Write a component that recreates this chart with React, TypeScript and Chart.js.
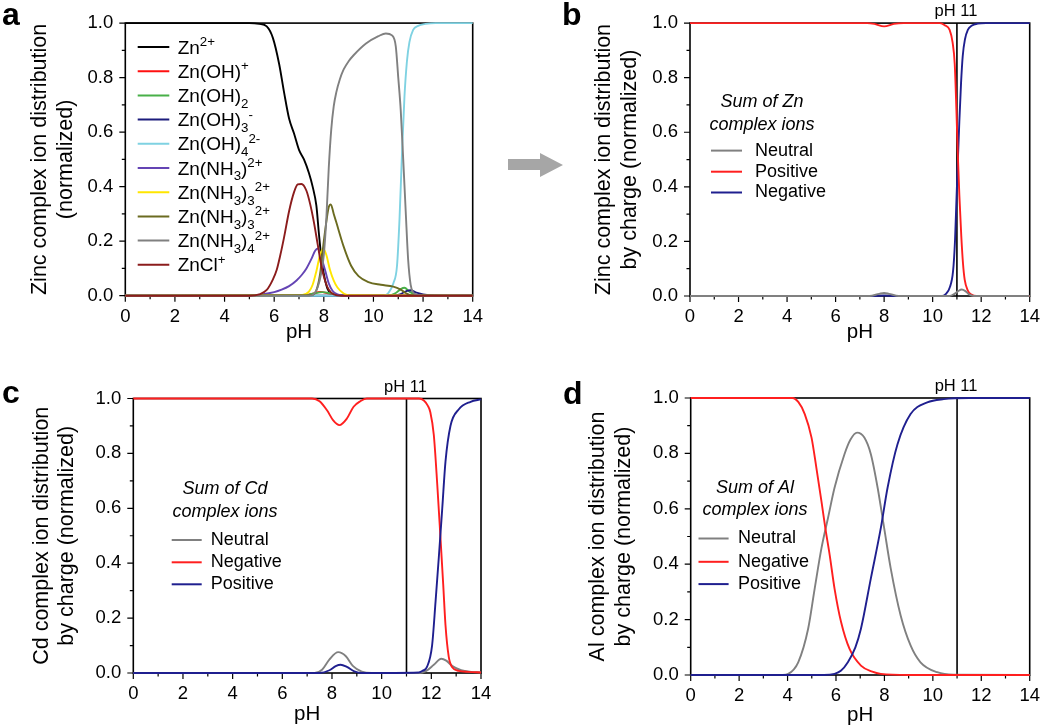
import React, { useEffect, useRef } from 'react';
import { Chart, registerables } from 'chart.js';

Chart.register(...registerables);

const FONT = '"Liberation Sans", Arial, Helvetica, sans-serif';
Chart.defaults.font.family = FONT;
Chart.defaults.color = '#000';

// ---- axes ----
const X_TICKS = [0, 2, 4, 6, 8, 10, 12, 14];
const X_MINOR = [1, 3, 5, 7, 9, 11, 13];
const Y_TICKS = [0, 0.2, 0.4, 0.6, 0.8, 1.0];
const Y_MINOR = [0.1, 0.3, 0.5, 0.7, 0.9];
const PH_MARK = 11;

// ---- panel a : Zn species ----
const A_NAMES = ['Zn^{2+}', 'Zn(OH)^{+}', 'Zn(OH)_{2}', 'Zn(OH)_{3}^{-}', 'Zn(OH)_{4}^{2-}', 'Zn(NH_{3})^{2+}', 'Zn(NH_{3})_{3}^{2+}', 'Zn(NH_{3})_{3}^{2+}', 'Zn(NH_{3})_{4}^{2+}', 'ZnCl^{+}'];
const A_COLORS = ['#000000', '#ff1010', '#48b048', '#1c1c7c', '#7fd2e2', '#6444b4', '#ffe600', '#6b6b20', '#808080', '#8b1c1c'];

const A_ZN2_PH = [0, 5.0, 5.4, 5.7, 5.95, 6.2, 6.4, 6.6, 6.8, 7.0, 7.2, 7.4, 7.55, 7.7, 7.8, 7.9, 8.0, 8.15, 8.35, 8.6, 14];
const A_ZN2 = [1, 1, 0.997, 0.988, 0.945, 0.85, 0.745, 0.65, 0.595, 0.535, 0.5, 0.45, 0.4, 0.33, 0.23, 0.14, 0.08, 0.025, 0.005, 0, 0];
const A_ZNOH_PH = [0, 7.0, 7.5, 7.85, 8.2, 8.6, 14];
const A_ZNOH = [0, 0, 0.006, 0.014, 0.008, 0.001, 0];
const A_ZNOH2_PH = [0, 7.2, 7.6, 7.95, 8.3, 8.7, 10.6, 10.9, 11.1, 11.25, 11.45, 11.7, 12.0, 14];
const A_ZNOH2 = [0, 0, 0.008, 0.013, 0.008, 0.001, 0.001, 0.01, 0.024, 0.029, 0.015, 0.004, 0.001, 0];
const A_ZNOH3_PH = [0, 10.9, 11.1, 11.35, 11.5, 11.7, 12.0, 12.5, 14];
const A_ZNOH3 = [0, 0, 0.006, 0.018, 0.02, 0.012, 0.005, 0.001, 0];
const A_ZNOH4_PH = [0, 10.4, 10.6, 10.8, 10.95, 11.05, 11.15, 11.25, 11.35, 11.45, 11.6, 11.8, 12.1, 12.5, 14];
const A_ZNOH4 = [0, 0, 0.01, 0.045, 0.11, 0.28, 0.52, 0.73, 0.86, 0.93, 0.975, 0.99, 0.997, 1, 1];
const A_NH3_PH = [0, 5.0, 5.5, 6.0, 6.3, 6.6, 6.9, 7.1, 7.3, 7.5, 7.65, 7.76, 7.9, 8.05, 8.2, 8.35, 8.55, 8.8, 14];
const A_NH3 = [0, 0.001, 0.005, 0.013, 0.022, 0.035, 0.056, 0.075, 0.1, 0.135, 0.165, 0.173, 0.14, 0.094, 0.045, 0.018, 0.005, 0.001, 0];
const A_NH33Y_PH = [0, 7.1, 7.4, 7.55, 7.7, 7.85, 7.98, 8.1, 8.25, 8.4, 8.55, 8.8, 9.0, 14];
const A_NH33Y = [0, 0.002, 0.015, 0.04, 0.09, 0.15, 0.172, 0.15, 0.094, 0.055, 0.03, 0.008, 0.002, 0];
const A_NH33O_PH = [0, 7.5, 7.7, 7.85, 8.0, 8.1, 8.2, 8.28, 8.4, 8.5, 8.8, 9.1, 9.4, 9.8, 10.3, 10.8, 11.1, 11.3, 11.5, 14];
const A_NH33O = [0, 0.002, 0.02, 0.08, 0.2, 0.27, 0.325, 0.335, 0.3, 0.27, 0.18, 0.11, 0.072, 0.05, 0.04, 0.033, 0.022, 0.01, 0.002, 0];
const A_NH34_PH = [0, 7.4, 7.6, 7.75, 7.9, 8.0, 8.1, 8.2, 8.3, 8.4, 8.5, 8.65, 8.8, 9.0, 9.2, 9.7, 10.2, 10.5, 10.75, 10.9, 11.0, 11.1, 11.2, 11.3, 11.4, 11.5, 11.6, 11.8, 12.0, 14];
const A_NH34 = [0, 0, 0.006, 0.03, 0.085, 0.15, 0.28, 0.47, 0.61, 0.695, 0.745, 0.795, 0.83, 0.86, 0.882, 0.925, 0.952, 0.962, 0.955, 0.915, 0.8, 0.68, 0.5, 0.31, 0.13, 0.04, 0.012, 0.003, 0, 0];
const A_ZNCL_PH = [0, 5.0, 5.4, 5.7, 5.95, 6.1, 6.25, 6.4, 6.6, 6.8, 6.95, 7.1, 7.3, 7.45, 7.6, 7.75, 7.9, 8.05, 8.2, 8.4, 8.7, 14];
const A_ZNCL = [0, 0, 0.005, 0.021, 0.06, 0.094, 0.15, 0.215, 0.31, 0.38, 0.408, 0.41, 0.385, 0.336, 0.27, 0.19, 0.11, 0.055, 0.022, 0.005, 0, 0];

// ---- panel b : Zn by charge ----
const B_NAMES = ['Neutral', 'Positive', 'Negative'];
const B_COLORS = ['#808080', '#ff1f1f', '#1f1f8f'];
const B_NEU_PH = [0, 7.4, 7.8, 8.0, 8.2, 8.6, 10.7, 10.9, 11.05, 11.2, 11.35, 11.5, 11.7, 14];
const B_NEU = [0, 0, 0.008, 0.011, 0.008, 0, 0, 0.008, 0.018, 0.024, 0.018, 0.006, 0, 0];
const B_POS_PH = [0, 7.3, 7.6, 8.0, 8.4, 8.8, 10.3, 10.5, 10.7, 10.82, 10.91, 10.98, 11.04, 11.1, 11.18, 11.25, 11.32, 11.45, 11.6, 11.8, 14];
const B_POS = [1, 1, 0.997, 0.988, 0.997, 1, 1, 0.992, 0.975, 0.93, 0.85, 0.68, 0.51, 0.37, 0.22, 0.12, 0.06, 0.02, 0.005, 0, 0];
const B_NEG_PH = [0, 7.5, 8.0, 8.5, 10.4, 10.57, 10.7, 10.84, 10.92, 10.98, 11.04, 11.1, 11.17, 11.24, 11.33, 11.45, 11.6, 11.85, 12.2, 14];
const B_NEG = [0, 0, 0.002, 0, 0, 0.01, 0.03, 0.09, 0.2, 0.35, 0.5, 0.64, 0.78, 0.88, 0.94, 0.975, 0.99, 0.998, 1, 1];

// ---- panel c : Cd by charge ----
const C_NAMES = ['Neutral', 'Negative', 'Positive'];
const C_COLORS = ['#808080', '#ff1f1f', '#1f1f8f'];
const C_NEU_PH = [0, 7.3, 7.6, 7.9, 8.25, 8.55, 8.85, 9.2, 9.6, 11.5, 11.8, 12.1, 12.4, 12.6, 12.85, 13.2, 13.6, 14];
const C_NEU = [0, 0, 0.012, 0.05, 0.076, 0.062, 0.025, 0.005, 0, 0, 0.008, 0.03, 0.052, 0.045, 0.025, 0.01, 0.004, 0.002];
const C_NEG_PH = [0, 7.2, 7.5, 7.8, 8.05, 8.3, 8.6, 8.87, 9.14, 9.4, 11.5, 11.7, 11.85, 11.96, 12.1, 12.24, 12.37, 12.48, 12.57, 12.7, 12.85, 13.1, 13.5, 14];
const C_NEG = [1, 1, 0.99, 0.957, 0.92, 0.903, 0.927, 0.97, 0.99, 1, 1, 0.993, 0.975, 0.95, 0.867, 0.685, 0.49, 0.32, 0.175, 0.06, 0.02, 0.008, 0.004, 0.002];
const C_POS_PH = [0, 7.5, 7.9, 8.15, 8.35, 8.6, 8.9, 9.2, 11.5, 11.65, 11.83, 12.03, 12.17, 12.3, 12.44, 12.57, 12.77, 13.1, 13.58, 14];
const C_POS = [0, 0, 0.01, 0.025, 0.03, 0.022, 0.006, 0, 0.002, 0.008, 0.023, 0.1, 0.26, 0.42, 0.6, 0.77, 0.9, 0.96, 0.988, 0.997];

// ---- panel d : Al by charge ----
const D_NAMES = ['Neutral', 'Negative', 'Positive'];
const D_COLORS = ['#808080', '#ff1f1f', '#1f1f8f'];
const D_NEU_PH = [0, 3.8, 4.03, 4.44, 4.85, 5.12, 5.4, 5.67, 5.94, 6.35, 6.6, 6.87, 7.17, 7.44, 7.72, 7.99, 8.26, 8.67, 9.08, 9.49, 10.18, 10.86, 14];
const D_NEU = [0, 0, 0.004, 0.046, 0.167, 0.312, 0.458, 0.567, 0.676, 0.797, 0.85, 0.875, 0.857, 0.797, 0.676, 0.53, 0.385, 0.215, 0.107, 0.046, 0.01, 0.001, 0];
const D_NEG_PH = [0, 4.2, 4.45, 4.71, 4.99, 5.19, 5.4, 5.56, 5.74, 5.94, 6.21, 6.56, 7.03, 7.5, 7.85, 9, 14];
const D_NEG = [1, 1, 0.985, 0.942, 0.857, 0.748, 0.627, 0.53, 0.433, 0.312, 0.191, 0.094, 0.034, 0.012, 0.004, 0, 0];
const D_POS_PH = [0, 5.5, 5.94, 6.2, 6.49, 6.8, 7.03, 7.44, 7.85, 8.13, 8.54, 9.08, 9.77, 10.45, 11.5, 14];
const D_POS = [0, 0, 0.004, 0.015, 0.046, 0.1, 0.167, 0.349, 0.53, 0.676, 0.833, 0.942, 0.984, 0.996, 1, 1];

// ---------- helpers ----------
type Seg = { t: string; k: 'n' | 'sub' | 'sup' };
function parseRich(s: string): Seg[] {
  const out: Seg[] = [];
  const re = /\^\{([^}]*)\}|_\{([^}]*)\}|([^_^]+)/g;
  let m: RegExpExecArray | null;
  while ((m = re.exec(s))) {
    if (m[1] !== undefined) out.push({ t: m[1], k: 'sup' });
    else if (m[2] !== undefined) out.push({ t: m[2], k: 'sub' });
    else out.push({ t: m[3], k: 'n' });
  }
  return out;
}
const SUP: Record<string, string> = { '0': '⁰', '1': '¹', '2': '²', '3': '³', '4': '⁴', '+': '⁺', '-': '⁻' };
const SUB: Record<string, string> = { '0': '₀', '1': '₁', '2': '₂', '3': '₃', '4': '₄' };
function toUnicode(s: string): string {
  return parseRich(s)
    .map((g) => (g.k === 'n' ? g.t : g.t.split('').map((c) => (g.k === 'sup' ? SUP[c] : SUB[c]) || c).join('')))
    .join('');
}
function drawRich(ctx: CanvasRenderingContext2D, s: string, x: number, yMid: number, size: number) {
  const base = yMid + size * 0.35;
  let cx = x;
  ctx.textAlign = 'left';
  ctx.textBaseline = 'alphabetic';
  for (const g of parseRich(s)) {
    const fs = g.k === 'n' ? size : size * 0.7;
    const dy = g.k === 'sub' ? size * 0.3 : g.k === 'sup' ? -size * 0.4 : 0;
    ctx.font = `${fs}px ${FONT}`;
    ctx.fillText(g.t, cx, base + dy);
    cx += ctx.measureText(g.t).width;
  }
}

interface Series { label: string; color: string; ph: number[]; v: number[]; order: number }
interface LegendSpec {
  title?: string[]; titleX?: number; titleY?: number[];
  lineX0: number; lineX1: number; textX: number; rowY: number[]; size: number; rich: boolean;
}
interface PanelSpec {
  left: number; top: number; w: number; h: number;
  area: { L: number; R: number; T: number; B: number };
  yTitle: string[]; yTitlePad: number; xTitlePad: number;
  mark: boolean;
  series: Series[];
  legend: LegendSpec;
}

const mk = (names: string[], colors: string[], phs: number[][], vs: number[][], orders: number[]): Series[] =>
  names.map((n, i) => ({ label: n, color: colors[i], ph: phs[i], v: vs[i], order: orders[i] }));

const A_ROWS = A_NAMES.map((_, i) => 47 + i * 24.2);

const PANELS: PanelSpec[] = [
  {
    left: 0, top: 0, w: 500, h: 345,
    area: { L: 125.3, R: 472.7, T: 21, B: 295.7 },
    yTitle: ['Zinc complex ion distribution', '(normalized)'], yTitlePad: 27.4, xTitlePad: 0,
    mark: false,
    series: mk(A_NAMES, A_COLORS,
      [A_ZN2_PH, A_ZNOH_PH, A_ZNOH2_PH, A_ZNOH3_PH, A_ZNOH4_PH, A_NH3_PH, A_NH33Y_PH, A_NH33O_PH, A_NH34_PH, A_ZNCL_PH],
      [A_ZN2, A_ZNOH, A_ZNOH2, A_ZNOH3, A_ZNOH4, A_NH3, A_NH33Y, A_NH33O, A_NH34, A_ZNCL],
      [10, 9, 8, 7, 6, 5, 4, 3, 2, 1]),
    legend: { lineX0: 137.7, lineX1: 169.3, textX: 177.7, rowY: A_ROWS, size: 19, rich: true },
  },
  {
    left: 520, top: 0, w: 530, h: 345,
    area: { L: 170, R: 1037 - 520, T: 21, B: 296 },
    yTitle: ['Zinc complex ion distribution', 'by charge (normalized)'], yTitlePad: 71.9, xTitlePad: 0,
    mark: true,
    series: mk(B_NAMES, B_COLORS, [B_NEU_PH, B_POS_PH, B_NEG_PH], [B_NEU, B_POS, B_NEG], [1, 2, 3]),
    legend: { title: ['Sum of Zn', 'complex ions'], titleX: 242, titleY: [102, 125], lineX0: 191, lineX1: 222, textX: 235, rowY: [150.6, 171.7, 192.5], size: 18, rich: false },
  },
  {
    left: 0, top: 360, w: 510, h: 365,
    area: { L: 133.3, R: 481, T: 38.5, B: 313 },
    yTitle: ['Cd complex ion distribution', 'by charge (normalized)'], yTitlePad: 29.1, xTitlePad: -2,
    mark: true,
    series: mk(C_NAMES, C_COLORS, [C_NEU_PH, C_NEG_PH, C_POS_PH], [C_NEU, C_NEG, C_POS], [3, 2, 1]),
    legend: { title: ['Sum of Cd', 'complex ions'], titleX: 225, titleY: [129.3, 151.7], lineX0: 171.7, lineX1: 201.7, textX: 210.7, rowY: [180, 202.3, 224.3], size: 18, rich: false },
  },
  {
    left: 520, top: 360, w: 530, h: 365,
    area: { L: 170.7, R: 1037 - 520, T: 38, B: 315 },
    yTitle: ['Al complex ion distribution', 'by charge (normalized)'], yTitlePad: 65.8, xTitlePad: -3,
    mark: true,
    series: mk(D_NAMES, D_COLORS, [D_NEU_PH, D_NEG_PH, D_POS_PH], [D_NEU, D_NEG, D_POS], [3, 2, 1]),
    legend: { title: ['Sum of Al', 'complex ions'], titleX: 235, titleY: [127.8, 149.8], lineX0: 178.5, lineX1: 208.6, textX: 218, rowY: [178.5, 201.8, 224.1], size: 18, rich: false },
  },
];

function framePlugin(spec: PanelSpec) {
  return {
    id: 'frameAndLegend',
    beforeDatasetsDraw(chart: any) {
      const { ctx, chartArea: ca } = chart;
      const xs = chart.scales.x;
      const ys = chart.scales.y;
      ctx.save();
      ctx.strokeStyle = '#000';
      ctx.lineWidth = 1.2;
      ctx.beginPath();
      const tx = (vals: number[], len: number) => vals.forEach((v) => {
        const p = xs.getPixelForValue(v);
        ctx.moveTo(p, ca.bottom);
        ctx.lineTo(p, ca.bottom + len);
      });
      const ty = (vals: number[], len: number) => vals.forEach((v) => {
        const p = ys.getPixelForValue(v);
        ctx.moveTo(ca.left - len, p);
        ctx.lineTo(ca.left, p);
      });
      tx(X_TICKS, 6); tx(X_MINOR, 3.5); ty(Y_TICKS, 6); ty(Y_MINOR, 3.5);
      ctx.stroke();
      ctx.lineWidth = 1.6;
      ctx.strokeRect(ca.left, ca.top, ca.right - ca.left, ca.bottom - ca.top);
      if (spec.mark) {
        const p = xs.getPixelForValue(PH_MARK);
        ctx.beginPath();
        ctx.moveTo(p, ca.top);
        ctx.lineTo(p, ca.bottom);
        ctx.stroke();
        ctx.fillStyle = '#000';
        ctx.font = `16.5px ${FONT}`;
        ctx.textAlign = 'center';
        ctx.textBaseline = 'middle';
        ctx.fillText('pH ' + PH_MARK, p - 1, ca.top - 11.5);
      }
      ctx.restore();
    },
    afterDraw(chart: any) {
      const { ctx } = chart;
      const lg = spec.legend;
      ctx.save();
      ctx.fillStyle = '#000';
      if (lg.title && lg.titleY) {
        ctx.font = `italic ${lg.size}px ${FONT}`;
        ctx.textAlign = 'center';
        ctx.textBaseline = 'middle';
        lg.title.forEach((t, i) => ctx.fillText(t, lg.titleX, lg.titleY![i]));
      }
      spec.series.forEach((s, i) => {
        const y = lg.rowY[i];
        ctx.strokeStyle = s.color;
        ctx.lineWidth = 2;
        ctx.beginPath();
        ctx.moveTo(lg.lineX0, y);
        ctx.lineTo(lg.lineX1, y);
        ctx.stroke();
        ctx.fillStyle = '#000';
        if (lg.rich) {
          drawRich(ctx, s.label, lg.textX, y, lg.size);
        } else {
          ctx.font = `${lg.size}px ${FONT}`;
          ctx.textAlign = 'left';
          ctx.textBaseline = 'middle';
          ctx.fillText(s.label, lg.textX, y);
        }
      });
      ctx.restore();
    },
  };
}

function buildConfig(spec: PanelSpec): any {
  const a = spec.area;
  return {
    type: 'line',
    data: {
      datasets: spec.series.map((s) => ({
        label: toUnicode(s.label),
        data: s.ph.map((x, j) => ({ x, y: s.v[j] })),
        borderColor: s.color,
        backgroundColor: s.color,
        borderWidth: 1.9,
        pointRadius: 0,
        fill: false,
        cubicInterpolationMode: 'monotone',
        clip: false,
        order: s.order,
      })),
    },
    options: {
      responsive: false,
      animation: false,
      devicePixelRatio: 1,
      events: [],
      layout: { padding: { left: 0, top: a.T, right: spec.w - a.R, bottom: 0 } },
      plugins: { legend: { display: false }, tooltip: { enabled: false }, title: { display: false } },
      scales: {
        x: {
          type: 'linear', min: 0, max: 14,
          afterBuildTicks: (s: any) => { s.ticks = X_TICKS.map((value) => ({ value })); },
          afterFit: (s: any) => { s.height = spec.h - a.B; },
          ticks: { font: { size: 18.5, family: FONT }, color: '#000', padding: 10, maxRotation: 0, autoSkip: false },
          grid: { display: false, drawTicks: false },
          border: { display: false },
          title: { display: true, text: 'pH', color: '#000', font: { size: 20.5, family: FONT, lineHeight: 1.2 }, padding: { top: 0, bottom: spec.xTitlePad } },
        },
        y: {
          type: 'linear', min: 0, max: 1,
          afterBuildTicks: (s: any) => { s.ticks = Y_TICKS.map((value) => ({ value })); },
          afterFit: (s: any) => { s.width = a.L; },
          ticks: { font: { size: 18.5, family: FONT }, color: '#000', padding: 12, callback: (v: any) => Number(v).toFixed(1) },
          grid: { display: false, drawTicks: false },
          border: { display: false },
          title: { display: true, text: spec.yTitle, color: '#000', font: { size: 21.5, family: FONT, lineHeight: 1.2 }, padding: { top: spec.yTitlePad - 0.3, bottom: 0 } },
        },
      },
    },
    plugins: [framePlugin(spec)],
  };
}

function Panel({ spec }: { spec: PanelSpec }) {
  const ref = useRef<HTMLCanvasElement>(null);
  useEffect(() => {
    if (!ref.current) return;
    const chart = new Chart(ref.current, buildConfig(spec));
    return () => chart.destroy();
  }, [spec]);
  return (
    <canvas
      ref={ref}
      width={spec.w}
      height={spec.h}
      style={{ position: 'absolute', left: spec.left, top: spec.top, width: spec.w, height: spec.h, display: 'block' }}
    />
  );
}

const LETTERS = [
  { t: 'a', left: 2, base: 25 },
  { t: 'b', left: 562, base: 25 },
  { t: 'c', left: 2, base: 403 },
  { t: 'd', left: 563, base: 404 },
];

export default function App() {
  return (
    <div style={{ position: 'absolute', left: 0, top: 0, width: 1050, height: 725, background: '#fff', overflow: 'hidden' }}>
      {PANELS.map((p, i) => (
        <Panel key={i} spec={p} />
      ))}
      <svg style={{ position: 'absolute', left: 500, top: 145 }} width={70} height={40}>
        <polygon points="8,14 40,14 40,8 63,20 40,32 40,25 8,25" fill="#a6a6a6" />
      </svg>
      {LETTERS.map((l) => (
        <div
          key={l.t}
          style={{ position: 'absolute', left: l.left, top: l.base - 27.1, font: `bold 32px ${FONT}`, lineHeight: '32px', color: '#000' }}
        >
          {l.t}
        </div>
      ))}
    </div>
  );
}
